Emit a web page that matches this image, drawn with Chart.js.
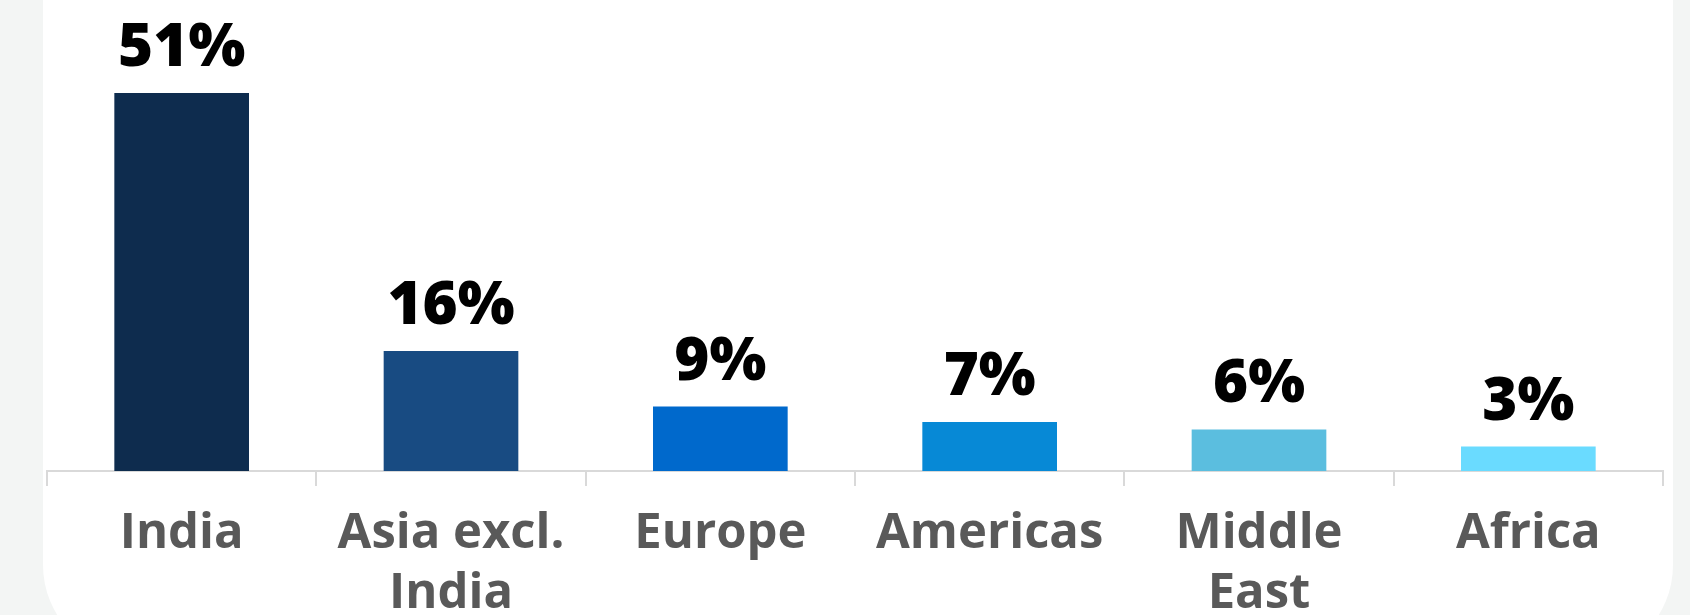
<!DOCTYPE html>
<html>
<head>
<meta charset="utf-8">
<script src="https://cdn.jsdelivr.net/npm/chart.js@4.4.1/dist/chart.umd.min.js"></script>
<style>
  html, body { margin: 0; padding: 0; }
  body {
    width: 1690px;
    height: 615px;
    overflow: hidden;
    background: #f3f5f4;
    position: relative;
  }
  .card {
    position: absolute;
    left: 43px;
    top: -60px;
    width: 1630px;
    height: 720px;
    background: #fff;
    border-radius: 0 0 95px 95px;
  }
  #regionChart {
    position: absolute;
    left: 0;
    top: 0;
  }
</style>
</head>
<body>
<div class="card"></div>
<canvas id="regionChart" width="1690" height="615"></canvas>
<script>
/* ===== Data ===== */
const REGIONS = ["India", ["Asia excl.", "India"], "Europe", "Americas", ["Middle", "East"], "Africa"];
const SHARES = [51, 16.2, 8.7, 6.6, 5.6, 3.3];
const BAR_COLORS = ["#0e2c4e", "#184b82", "#0069cc", "#0789d6", "#5bbedf", "#6adbff"];

/* ===== Value labels above bars ===== */
const valueLabels = {
  id: "valueLabels",
  afterDatasetsDraw(chart) {
    const ctx = chart.ctx;
    const meta = chart.getDatasetMeta(0);
    ctx.save();
    ctx.font = "800 60px 'Open Sans', sans-serif";
    ctx.fillStyle = "#000";
    ctx.textAlign = "center";
    ctx.textBaseline = "alphabetic";
    meta.data.forEach((bar, i) => {
      ctx.fillText(`${Math.round(SHARES[i])}%`, bar.x, bar.y - 27);
    });
    ctx.restore();
  },
};

new Chart(document.getElementById("regionChart"), {
  type: "bar",
  data: {
    labels: REGIONS,
    datasets: [
      {
        data: SHARES,
        backgroundColor: BAR_COLORS,
        borderWidth: 0,
        barPercentage: 1,
        categoryPercentage: 0.5,
      },
    ],
  },
  options: {
    responsive: false,
    animation: false,
    devicePixelRatio: 1,
    layout: { padding: { left: 47, right: 27, top: 93, bottom: 0 } },
    plugins: {
      legend: { display: false },
      tooltip: { enabled: false },
    },
    scales: {
      x: {
        grid: {
          drawOnChartArea: false,
          color: "#d9d9d9",
          lineWidth: 2,
          tickLength: 15,
        },
        border: { color: "#d9d9d9", width: 2 },
        ticks: {
          color: "#595959",
          padding: 18,
          maxRotation: 0,
          autoSkip: false,
          font: { family: "'Open Sans', sans-serif", weight: "700", size: 49, lineHeight: "60px" },
        },
        afterFit: (scale) => { scale.height = 144; },
      },
      y: {
        display: false,
        min: 0,
        max: 51,
      },
    },
  },
  plugins: [valueLabels],
});
</script>
</body>
</html>
